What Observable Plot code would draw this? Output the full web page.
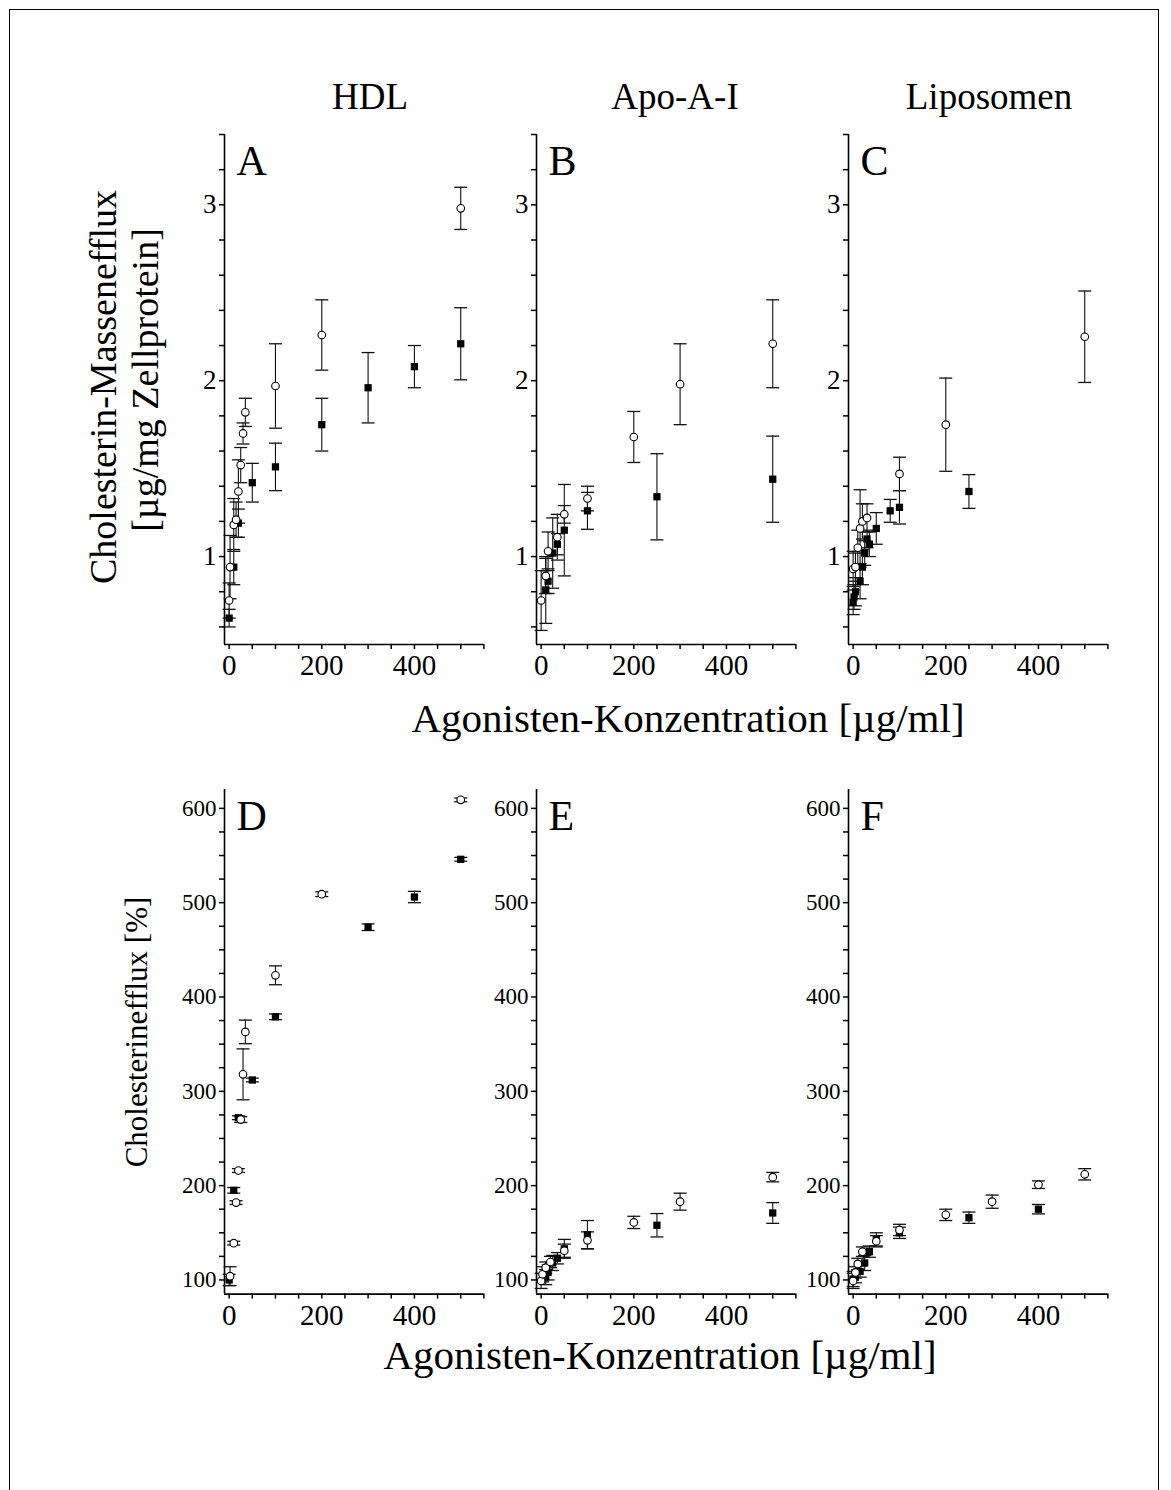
<!DOCTYPE html>
<html>
<head>
<meta charset="utf-8">
<script src="https://cdn.jsdelivr.net/npm/d3@7"></script>
<script src="https://cdn.jsdelivr.net/npm/@observablehq/plot@0.6"></script>
<style>
  html, body { margin: 0; padding: 0; background: white; }
  body { width: 1171px; height: 1490px; position: relative; overflow: hidden; font-family: "Liberation Serif", "Times New Roman", serif; color: black; }
  .lbl { position: absolute; white-space: nowrap; line-height: 1; }
  .frame { position: absolute; left: 9px; top: 9px; width: 1150px; height: 1520px; border: 1.5px solid #000; box-sizing: border-box; }
  .panel { position: absolute; }
  .panel text { font-family: "Liberation Serif", "Times New Roman", serif !important; fill: black; }
</style>
</head>
<body>
<div class="frame"></div>
<div id="root"></div>
<script>
// ---------- data (x = Agonisten-Konzentration µg/ml, y = value, e = error) ----------
// Top row: Cholesterin-Massenefflux [µg/mg Zellprotein]
const A_open_x = [0, 2, 10, 15, 20, 25, 30, 35, 100, 200, 500];
const A_open_y = [0.75, 0.94, 1.18, 1.21, 1.37, 1.52, 1.70, 1.82, 1.97, 2.26, 2.98];
const A_open_e = [0.10, 0.18, 0.15, 0.10, 0.18, 0.10, 0.06, 0.08, 0.24, 0.20, 0.12];
const A_fill_x = [0, 10, 20, 50, 100, 200, 300, 400, 500];
const A_fill_y = [0.65, 0.94, 1.19, 1.42, 1.51, 1.75, 1.96, 2.08, 2.21];
const A_fill_e = [0.05, 0.10, 0.08, 0.11, 0.135, 0.15, 0.20, 0.12, 0.205];

const B_open_x = [0, 10, 15, 35, 50, 100, 200, 300, 500];
const B_open_y = [0.75, 0.89, 1.03, 1.11, 1.24, 1.33, 1.68, 1.98, 2.21];
const B_open_e = [0.17, 0.10, 0.11, 0.13, 0.05, 0.07, 0.145, 0.23, 0.25];
const B_fill_x = [10, 15, 25, 35, 50, 100, 250, 500];
const B_fill_y = [0.81, 0.86, 1.02, 1.07, 1.15, 1.26, 1.34, 1.44];
const B_fill_e = [0.19, 0.07, 0.20, 0.06, 0.26, 0.105, 0.245, 0.245];

const C_open_x = [0, 5, 10, 15, 20, 30, 100, 200, 500];
const C_open_y = [0.93, 0.94, 1.05, 1.16, 1.20, 1.22, 1.47, 1.75, 2.25];
const C_open_e = [0.10, 0.08, 0.10, 0.22, 0.10, 0.08, 0.095, 0.265, 0.26];
const C_fill_x = [0, 2, 5, 15, 20, 25, 30, 35, 50, 80, 100, 250];
const C_fill_y = [0.74, 0.77, 0.80, 0.86, 0.94, 1.02, 1.10, 1.07, 1.16, 1.26, 1.28, 1.37];
const C_fill_e = [0.07, 0.07, 0.08, 0.10, 0.10, 0.07, 0.05, 0.07, 0.09, 0.065, 0.095, 0.096];

// Bottom row: Cholesterinefflux [%]
const D_open_x = [2, 10, 15, 20, 25, 30, 35, 100, 200, 500];
const D_open_y = [104, 139, 182, 216, 270, 318, 363, 423, 509, 609];
const D_open_e = [10, 2, 2, 2, 3, 27, 12.5, 10, 2.5, 2];
const D_fill_x = [0, 10, 20, 50, 100, 300, 400, 500];
const D_fill_y = [100, 195, 272, 312, 379, 474, 506, 546];
const D_fill_e = [6, 3, 2, 2, 3, 3.5, 6, 2];

const E_open_x = [0, 3, 10, 20, 50, 100, 200, 300, 500];
const E_open_y = [99, 106, 113, 119, 131, 142, 161, 183, 209];
const E_open_e = [8, 8, 6, 6, 7, 9, 6.5, 9, 5];
const E_fill_x = [10, 15, 25, 35, 50, 100, 250, 500];
const E_fill_y = [103, 108, 118, 123, 133, 148, 158, 171];
const E_fill_e = [8, 8, 8, 6, 10, 15, 12.4, 11];

const F_open_x = [0, 5, 10, 20, 50, 100, 200, 300, 400, 500];
const F_open_y = [99, 108, 117, 130, 141, 153, 169, 183, 201, 212];
const F_open_e = [8, 6, 6, 5, 6, 6, 6, 7, 4, 6];
const F_fill_x = [0, 5, 15, 25, 35, 50, 100, 250, 400];
const F_fill_y = [101, 103, 109, 118, 130, 143, 150, 166, 175];
const F_fill_e = [8, 6, 6, 8, 6, 7, 6, 6, 5];

const columnTitles = ["HDL", "Apo-A-I", "Liposomen"];
const panelLetters = ["A", "B", "C", "D", "E", "F"];
const xTicks = d3.range(0, 551, 50);
const xTickLabels = [0, 200, 400];
const topYTicks = d3.range(6, 35, 2).map(d => d / 10);
const topYTickLabels = [1, 2, 3];
const botYTicks = d3.range(100, 621, 25);
const botYTickLabels = [100, 200, 300, 400, 500, 600];
const xTitle = "Agonisten-Konzentration [µg/ml]";
const yTitleTop1 = "Cholesterin-Massenefflux";
const yTitleTop2 = "[µg/mg Zellprotein]";
const yTitleBot = "Cholesterinefflux [%]";

// ---------- helpers ----------
const series = (xs, ys, es) => xs.map((x, i) => ({x, y: ys[i], e: es[i]}));
const FONT = '"Liberation Serif", "Times New Roman", serif';
const cap = {draw(ctx) { ctx.moveTo(-6.5, 0); ctx.lineTo(6.5, 0); }};
const near = (a, b) => Math.abs(a - b) < 1e-6;

const colX = [223.5, 535.7, 847.8];      // page x of each y-axis line
const innerW = 259.4;
const ML = 70, MR = 10.6, MT = 10, MB = 50;
const rows = [
  {top: 133.7, innerH: 510, domain: [0.5, 3.4], ticks: topYTicks, labels: topYTickLabels, fs: 27},
  {top: 789.4, innerH: 504.6, domain: [85, 620], ticks: botYTicks, labels: botYTickLabels, fs: 23}
];
const panelData = [
  [series(A_open_x, A_open_y, A_open_e), series(A_fill_x, A_fill_y, A_fill_e)],
  [series(B_open_x, B_open_y, B_open_e), series(B_fill_x, B_fill_y, B_fill_e)],
  [series(C_open_x, C_open_y, C_open_e), series(C_fill_x, C_fill_y, C_fill_e)],
  [series(D_open_x, D_open_y, D_open_e), series(D_fill_x, D_fill_y, D_fill_e)],
  [series(E_open_x, E_open_y, E_open_e), series(E_fill_x, E_fill_y, E_fill_e)],
  [series(F_open_x, F_open_y, F_open_e), series(F_fill_x, F_fill_y, F_fill_e)]
];

const root = document.getElementById("root");

panelData.forEach(([open, fill], i) => {
  const r = rows[Math.floor(i / 3)];
  const c = i % 3;
  const all = open.concat(fill);
  const errMarks = (data) => [
    Plot.ruleX(data, {x: "x", y1: d => d.y - d.e, y2: d => d.y + d.e, stroke: "#111", strokeWidth: 1.1}),
    Plot.dot(data, {x: "x", y: d => d.y + d.e, symbol: cap, stroke: "#111", strokeWidth: 1.3, fill: "none", r: 4}),
    Plot.dot(data, {x: "x", y: d => d.y - d.e, symbol: cap, stroke: "#111", strokeWidth: 1.3, fill: "none", r: 4})
  ];
  const plot = Plot.plot({
    width: ML + innerW + MR,
    height: MT + r.innerH + MB,
    marginLeft: ML, marginRight: MR, marginTop: MT, marginBottom: MB,
    style: {fontFamily: FONT, fontSize: "23px", background: "transparent", overflow: "visible", color: "black"},
    x: {domain: [-10, 550]},
    y: {domain: r.domain},
    marks: [
      Plot.axisX({ticks: xTicks, tickFormat: d => xTickLabels.includes(d) ? String(d) : "", tickSize: 5, tickPadding: 5, fontSize: 29, fontFamily: FONT, strokeWidth: 1.5, label: null}),
      Plot.axisY({ticks: r.ticks, tickFormat: d => r.labels.some(v => near(v, d)) ? String(Math.round(d)) : "", tickSize: 5, tickPadding: 3, fontSize: r.fs, fontFamily: FONT, strokeWidth: 1.5, label: null}),
      Plot.ruleX([-10], {stroke: "black", strokeWidth: 1.6}),
      Plot.ruleY([r.domain[0]], {stroke: "black", strokeWidth: 1.6}),
      ...errMarks(all),
      Plot.dot(fill, {x: "x", y: "y", symbol: "square", r: 4.1, fill: "black", stroke: "none"}),
      Plot.dot(open, {x: "x", y: "y", symbol: "circle", r: 3.8, fill: "white", stroke: "black", strokeWidth: 1.1}),
      Plot.text([panelLetters[i]], {text: d => d, frameAnchor: "top-left", textAnchor: "start", lineAnchor: "top", dx: 12, dy: 11, fontSize: 42, fill: "black"})
    ]
  });
  plot.classList.add("panel");
  plot.style.left = (colX[c] - ML) + "px";
  plot.style.top = (r.top - MT) + "px";
  plot.style.maxWidth = "none";
  root.appendChild(plot);
});

// ---------- HTML text (titles / axis titles) ----------
function addText(txt, cx, baseline, fs) {
  const d = document.createElement("div");
  d.className = "lbl";
  d.textContent = txt;
  d.style.fontSize = fs + "px";
  d.style.left = cx + "px";
  d.style.top = (baseline - 0.8375 * fs) + "px";
  d.style.transform = "translateX(-50%)";
  root.appendChild(d);
}
function addVText(txt, baselineX, cy, fs) {
  const d = document.createElement("div");
  d.className = "lbl";
  d.textContent = txt;
  d.style.fontSize = fs + "px";
  const cx = baselineX - 0.3375 * fs;
  d.style.left = cx + "px";
  d.style.top = cy + "px";
  d.style.transform = "translate(-50%, -50%) rotate(-90deg)";
  root.appendChild(d);
}
addText(columnTitles[0], 370, 109, 37);
addText(columnTitles[1], 675, 109, 37);
addText(columnTitles[2], 989, 109, 37);
addText(xTitle, 688, 732, 41);
addText(xTitle, 660, 1369, 41);
addVText(yTitleTop1, 116, 387, 38);
addVText(yTitleTop2, 158, 380, 38);
addVText(yTitleBot, 146, 1032, 31);
</script>
</body>
</html>
